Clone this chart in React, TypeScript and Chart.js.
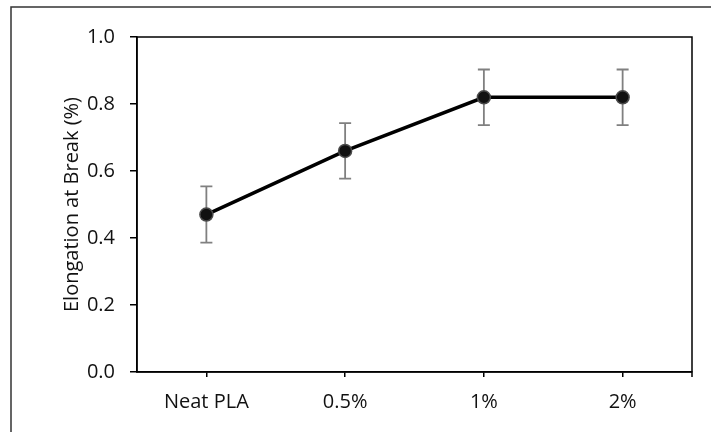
import React, { useEffect, useRef } from "react";
import { Chart, registerables } from "chart.js";

Chart.register(...registerables);

const categories = ["Neat PLA", "0.5%", "1%", "2%"];
const elongation = [0.47, 0.66, 0.82, 0.82];
const errors = [0.084, 0.083, 0.083, 0.083];
const yTicks = [0, 0.2, 0.4, 0.6, 0.8, 1.0];

const FONT = "'Open Sans', sans-serif";

const framePlugin = {
  id: "frame",
  beforeDatasetsDraw(chart: any) {
    const { ctx, chartArea } = chart;
    ctx.save();
    // outer frame (top + left)
    ctx.strokeStyle = "#333";
    ctx.lineWidth = 1.5;
    ctx.beginPath();
    ctx.moveTo(11, 432);
    ctx.lineTo(11, 7);
    ctx.lineTo(711, 7);
    ctx.stroke();
    // plot box
    ctx.strokeStyle = "#000";
    ctx.lineWidth = 1.5;
    ctx.beginPath();
    ctx.rect(chartArea.left, chartArea.top, chartArea.right - chartArea.left, chartArea.bottom - chartArea.top);
    ctx.moveTo(chartArea.right, chartArea.bottom);
    ctx.lineTo(chartArea.right, chartArea.bottom + 5);
    ctx.stroke();
    // error bars
    const meta = chart.getDatasetMeta(0);
    const yScale = chart.scales.y;
    ctx.strokeStyle = "#808080";
    ctx.lineWidth = 1.8;
    meta.data.forEach((pt: any, i: number) => {
      const v = elongation[i];
      const e = errors[i];
      const yTop = yScale.getPixelForValue(v + e);
      const yBot = yScale.getPixelForValue(v - e);
      const x = pt.x;
      ctx.beginPath();
      ctx.moveTo(x, yTop);
      ctx.lineTo(x, yBot);
      ctx.moveTo(x - 6, yTop);
      ctx.lineTo(x + 6, yTop);
      ctx.moveTo(x - 6, yBot);
      ctx.lineTo(x + 6, yBot);
      ctx.stroke();
    });
    ctx.restore();
  },
};

export default function App() {
  const ref = useRef<HTMLCanvasElement | null>(null);
  useEffect(() => {
    if (!ref.current) return;
    const chart = new Chart(ref.current, {
      type: "line",
      data: {
        labels: categories,
        datasets: [
          {
            data: elongation,
            borderColor: "#000",
            borderWidth: 3.5,
            pointRadius: 6.5,
            pointBackgroundColor: "#111",
            pointBorderColor: "#4a4a4a",
            pointBorderWidth: 1.5,
            tension: 0,
          },
        ],
      },
      options: {
        animation: false,
        responsive: false,
        events: [],
        layout: { padding: { top: 37, right: 19, left: 0, bottom: 0 } },
        plugins: { legend: { display: false }, tooltip: { enabled: false } },
        scales: {
          x: {
            type: "category",
            offset: true,
            grid: { display: true, drawOnChartArea: false, drawTicks: true, tickLength: 5, color: "#000", lineWidth: 1.5, offset: false },
            border: { display: true, color: "#000", width: 1.5 },
            ticks: { color: "#111", font: { family: FONT, size: 20 }, padding: 13, maxRotation: 0 },
            afterFit: (s: any) => { s.height = 60; },
          },
          y: {
            min: 0,
            max: 1,
            afterBuildTicks: (s: any) => { s.ticks = yTicks.map((v) => ({ value: v })); },
            grid: { display: true, drawOnChartArea: false, drawTicks: true, tickLength: 7, color: "#000", lineWidth: 1.5 },
            border: { display: true, color: "#000", width: 1.5 },
            ticks: {
              color: "#111",
              font: { family: FONT, size: 20 },
              padding: 15,
              callback: (v: any) => Number(v).toFixed(1),
            },
            title: {
              display: true,
              text: "Elongation at Break (%)",
              color: "#111",
              font: { family: FONT, size: 20 },
              padding: { top: 60, bottom: 0 },
            },
            afterFit: (s: any) => { s.width = 137; },
          },
        },
      },
      plugins: [framePlugin],
    });
    return () => chart.destroy();
  }, []);
  return (
    <div style={{ position: "absolute", left: 0, top: 0, width: 711, height: 432, background: "#fff" }}>
      <canvas ref={ref} width={711} height={432} />
    </div>
  );
}
